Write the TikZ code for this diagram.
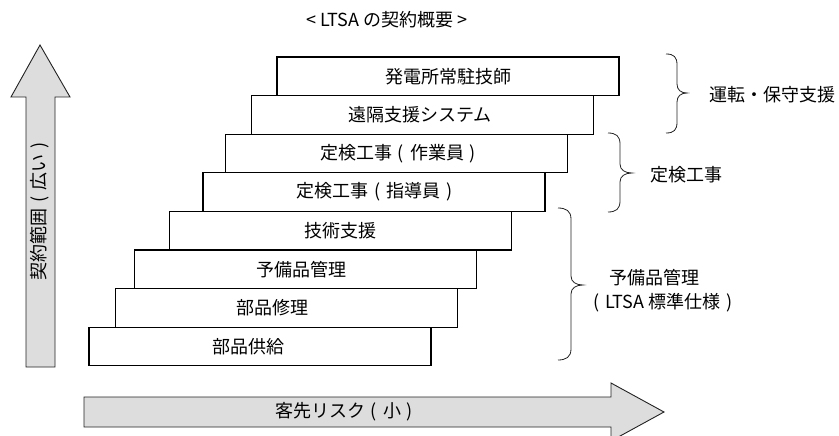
\documentclass[tikz,border=0pt]{standalone}
\usepackage{fontspec}
\setmainfont{Noto Sans CJK JP}
\definecolor{arrowfill}{HTML}{DDDDDD}
\definecolor{lineg}{HTML}{222222}
\newcommand{\fwl}{\makebox[1em][c]{(}}
\newcommand{\fwr}{\makebox[1em][c]{)}}
\begin{document}
\begin{tikzpicture}[x=1pt,y=-1pt,
  stepbox/.style={draw=black, line width=1.3pt, fill=white, minimum width=342pt, minimum height=38.6pt, inner sep=0pt},
  txt/.style={font=\fontsize{18pt}{20pt}\selectfont, inner sep=0pt, text=black},
  bigarrow/.style={draw=lineg, line width=0.9pt, fill=arrowfill, line join=miter},
  brace/.style={draw=lineg, line width=0.8pt}]
\useasboundingbox (0,0) rectangle (839,436);
% title
\node[txt] (title) at (387,20) {< LTSA の契約概要 >};
% vertical arrow
\draw[bigarrow] (26,367) -- (26,97) -- (11,97) -- (40,45) -- (70,97) -- (55,97) -- (55,367) -- cycle;
\node[txt, rotate=90] (vlabel) at (40,208) {契約範囲\fwl 広い\fwr};
% horizontal arrow
\draw[bigarrow] (84,397) -- (611,397) -- (611,383) -- (664,412) -- (611,441) -- (611,427) -- (84,427) -- cycle;
\node[txt] (hlabel) at (347,412) {客先リスク\fwl 小\fwr};
% steps
\node[stepbox] (b8) at (260,346.5) {};
\node[stepbox] (b7) at (286.5,307.9) {};
\node[stepbox] (b6) at (305.5,269.3) {};
\node[stepbox] (b5) at (340.5,230.7) {};
\node[stepbox] (b4) at (374,192.1) {};
\node[stepbox] (b3) at (396.5,153.5) {};
\node[stepbox] (b2) at (422.5,114.9) {};
\node[stepbox] (b1) at (448,76.3) {};
\node[txt] (t1) at ([xshift=0pt]b1.center) {発電所常駐技師};
\node[txt] (t2) at ([xshift=-2.5pt]b2.center) {遠隔支援システム};
\node[txt] (t3) at ([xshift=4.5pt]b3.center) {定検工事\fwl 作業員\fwr};
\node[txt] (t4) at ([xshift=3.5pt]b4.center) {定検工事\fwl 指導員\fwr};
\node[txt] (t5) at ([xshift=0pt]b5.center) {技術支援};
\node[txt] (t6) at ([xshift=-4.5pt]b6.center) {予備品管理};
\node[txt] (t7) at ([xshift=-14.5pt]b7.center) {部品修理};
\node[txt] (t8) at ([xshift=-12pt]b8.center) {部品供給};
% braces
\draw[brace] (666,54) .. controls (674,54) and (677,57) .. (677,65) -- (677,84)
  .. controls (677,90) and (681,93) .. (687,93)
  .. controls (681,93) and (677,96) .. (677,102) -- (677,122)
  .. controls (677,130) and (674,133) .. (666,133);
\draw[brace] (608,133) .. controls (616,133) and (620,136) .. (620,144) -- (620,164)
  .. controls (620,170) and (625,173) .. (632,173)
  .. controls (625,173) and (620,176) .. (620,182) -- (620,201)
  .. controls (620,209) and (616,212) .. (608,212);
\draw[brace] (558,208) .. controls (566,208) and (571,211) .. (571,219) -- (571,276)
  .. controls (571,282) and (576,285) .. (583,285)
  .. controls (576,285) and (571,288) .. (571,294) -- (571,349)
  .. controls (571,357) and (566,360) .. (558,360);
\node[txt] (g1) at (772,95) {運転・保守支援};
\node[txt] (g2) at (686,175) {定検工事};
\node[txt] (g3a) at (654,278) {予備品管理};
\node[txt] (g3b) at (663,303) {\fwl LTSA 標準仕様\fwr};
\end{tikzpicture}
\end{document}
